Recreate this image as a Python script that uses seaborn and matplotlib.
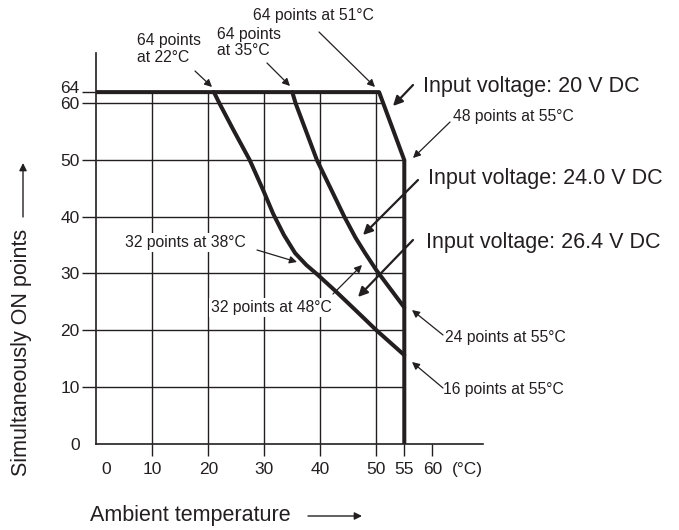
import numpy as np
import pandas as pd
import matplotlib
matplotlib.use("Agg")
import matplotlib.pyplot as plt
import matplotlib.transforms as mtransforms
import seaborn as sns

# derating curves (ambient temp in degC, simultaneously ON points)
temp_20v = [0, 50.5, 55, 55]
points_20v = [64, 64, 50, 0]

temp_24v = [35, 35.6, 37.5, 39.4, 42, 44.3, 46.3, 48, 50, 52.5, 55]
points_24v = [64, 60, 55, 50, 44.7, 40, 36.3, 33.6, 30.6, 27.3, 24]

temp_26v = [21, 22, 24.5, 27.4, 29.8, 31.6, 33.5, 35.5, 37.5, 39.5, 42.6, 46, 50, 55]
points_26v = [64, 60, 55.3, 50, 44.7, 40.5, 36.8, 33.6, 31.5, 29.8, 27, 23.8, 20, 15.6]

series_names = ["Input voltage: 20 V DC", "Input voltage: 24.0 V DC", "Input voltage: 26.4 V DC"]

x_ticks = [0, 10, 20, 30, 40, 50, 55, 60]
y_ticks = [0, 10, 20, 30, 40, 50, 60, 64]
grid_x = [10, 20, 30, 40, 50]
grid_y = [10, 20, 30, 40, 50, 60]

df = pd.concat([
    pd.DataFrame({"temp": temp_20v, "points": points_20v, "series": series_names[0]}),
    pd.DataFrame({"temp": temp_24v, "points": points_24v, "series": series_names[1]}),
    pd.DataFrame({"temp": temp_26v, "points": points_26v, "series": series_names[2]}),
], ignore_index=True)

sns.set_style("ticks")
plt.rcParams["font.family"] = ["Liberation Sans", "DejaVu Sans"]

INK = "#231f20"
W, H = 679, 530


def fwd(y):
    # the band above 60 is drawn squeezed in the original
    y = np.asarray(y, dtype=float)
    return np.where(y <= 60, y, 60 + (y - 60) * 0.5)


def inv(t):
    t = np.asarray(t, dtype=float)
    return np.where(t <= 60, t, 60 + (t - 60) * 2)


def P(x, y):
    # image pixels (top-left origin) -> figure fraction
    return (x / W, 1 - y / H)


fig = plt.figure(figsize=(6.79, 5.30), dpi=100)
ax = fig.add_axes([96.3 / W, 1 - 443.5 / H, (482.7 - 96.3) / W, (443.5 - 53.3) / H])

sns.lineplot(data=df, x="temp", y="points", hue="series", units="series",
             palette=[INK, INK, INK], estimator=None, sort=False,
             linewidth=2.9, legend=False, ax=ax, zorder=3)

ax.set_yscale("function", functions=(fwd, inv))
ax.set_xlim(0, 69)
ax.set_ylim(0, 77.7)

# grid only inside the 20 V envelope
ax.vlines(grid_x, 0, 64, color=INK, lw=1.0, zorder=1)
t_env = fwd(points_20v)[::-1]
x_env = np.array(temp_20v)[::-1]
x_end = np.interp(fwd(grid_y), t_env, x_env)
ax.hlines(grid_y, 0, x_end, color=INK, lw=1.0, zorder=1)

sns.despine(ax=ax)
for side in ["left", "bottom"]:
    ax.spines[side].set_linewidth(1.2)
    ax.spines[side].set_color(INK)

ax.set_xticks(x_ticks + [66.2])
ax.set_xticklabels([str(v) for v in x_ticks] + ["(°C)"])
ax.set_yticks(y_ticks)
ax.set_yticklabels([str(v) for v in y_ticks])
ax.tick_params(axis="x", length=8.6, width=1.0, pad=5, labelsize=12.5, colors=INK)
ax.tick_params(axis="y", length=10, width=1.0, pad=2, labelsize=12.5, colors=INK)

xt = ax.xaxis.get_major_ticks()
xt[0].tick1line.set_visible(False)
xt[-1].tick1line.set_visible(False)
xt[0].label1.set_transform(xt[0].label1.get_transform() +
                           mtransforms.ScaledTranslation(0.10, 0, fig.dpi_scale_trans))
yt = ax.yaxis.get_major_ticks()
yt[0].tick1line.set_visible(False)
yt[-1].label1.set_transform(yt[-1].label1.get_transform() +
                            mtransforms.ScaledTranslation(0, 0.05, fig.dpi_scale_trans))

ax.set_xlabel("Ambient temperature", fontsize=15.5, color=INK)
ax.set_ylabel("Simultaneously ON points", fontsize=15.5, color=INK)
ax.xaxis.set_label_coords((190 - 96.3) / 386.4, (443.5 - 516) / 390.2)
ax.xaxis.label.set_va("center")
ax.yaxis.set_label_coords((21.7 - 96.3) / 386.4, (443.5 - 352) / 390.2)
ax.yaxis.label.set_va("center")

# axis direction arrows
arr = dict(arrowstyle="-|>", color=INK, lw=1.0, mutation_scale=11, shrinkA=0, shrinkB=0)
ax.annotate("", xy=P(362, 516), xytext=P(308, 516), xycoords="figure fraction",
            textcoords="figure fraction", arrowprops=arr)
ax.annotate("", xy=P(23, 163), xytext=P(23, 217), xycoords="figure fraction",
            textcoords="figure fraction", arrowprops=arr)

# callout texts (left, baseline of last line)
small = 11.3
big = 15.5
notes = [
    ("64 points\nat 22°C", 136.7, 61.7, small, False),
    ("64 points\nat 35°C", 216.7, 55, small, False),
    ("64 points at 51°C", 253.3, 20, small, False),
    (series_names[0], 422.7, 91.7, big, False),
    ("48 points at 55°C", 453.3, 120.7, small, False),
    (series_names[1], 428.3, 184, big, False),
    (series_names[2], 425.7, 248.3, big, False),
    ("32 points at 38°C", 125, 246.7, small, True),
    ("32 points at 48°C", 210.7, 311.7, small, True),
    ("24 points at 55°C", 445, 341.7, small, False),
    ("16 points at 55°C", 443.3, 394.3, small, False),
]
for txt, px, py, fs, boxed in notes:
    t = fig.text(*P(px, py), txt, fontsize=fs, color=INK, ha="left", va="baseline",
                 linespacing=1.12, zorder=5)
    if boxed:
        t.set_bbox(dict(facecolor="white", edgecolor="none", pad=1.5))

# callout arrows (tail -> head)
thin = dict(arrowstyle="-|>", color=INK, lw=0.9, mutation_scale=11, shrinkA=0, shrinkB=0)
thick = dict(arrowstyle="-|>", color=INK, lw=1.6, mutation_scale=14, shrinkA=0, shrinkB=0)
callouts = [
    ((195, 71), (212, 87), thin),
    ((267, 63), (290, 86), thin),
    ((319, 32), (375, 87), thin),
    ((413, 85), (393, 106), thick),
    ((450, 122), (413, 158), thin),
    ((418, 180), (363, 235), thick),
    ((413, 240), (358, 297), thick),
    ((257, 250), (297, 262), thin),
    ((333, 294), (362, 265), thin),
    ((443, 335), (412, 310), thin),
    ((443, 388), (412, 362), thin),
]
for tail, head, style in callouts:
    ax.annotate("", xy=P(*head), xytext=P(*tail), xycoords="figure fraction",
                textcoords="figure fraction", arrowprops=style, zorder=6)

plt.savefig("out.png", dpi=100)
